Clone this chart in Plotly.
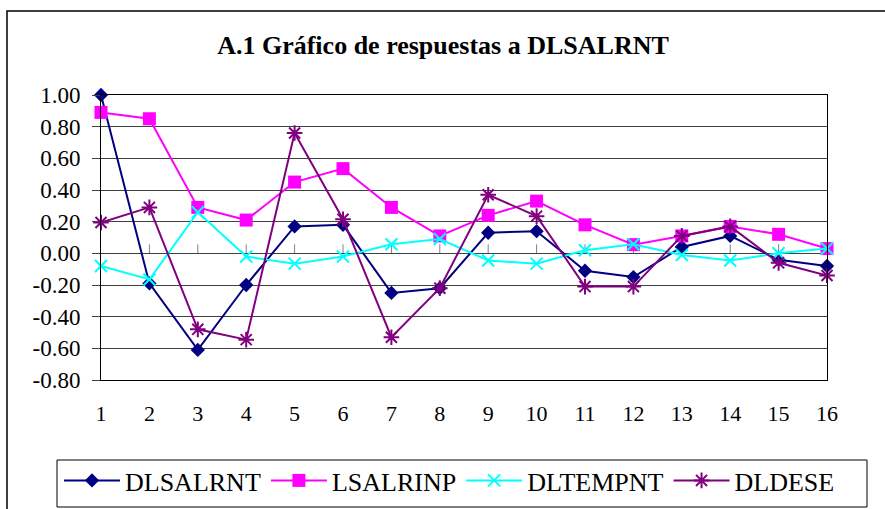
import plotly.graph_objects as go

periods = list(range(1, 17))
tick_labels = [str(p) for p in periods]
y_tick_vals = [-0.8, -0.6, -0.4, -0.2, 0.0, 0.2, 0.4, 0.6, 0.8, 1.0]
y_tick_labels = ["-0.80", "-0.60", "-0.40", "-0.20", "0.00", "0.20", "0.40", "0.60", "0.80", "1.00"]

dlsalrnt = [1.00, -0.19, -0.61, -0.20, 0.17, 0.18, -0.25, -0.22, 0.13, 0.14, -0.11, -0.15, 0.04, 0.11, -0.04, -0.08]
lsalrinp = [0.89, 0.85, 0.29, 0.21, 0.45, 0.535, 0.29, 0.11, 0.24, 0.33, 0.18, 0.055, 0.11, 0.17, 0.12, 0.03]
dltempnt = [-0.08, -0.165, 0.26, -0.02, -0.065, -0.02, 0.057, 0.09, -0.045, -0.065, 0.02, 0.057, -0.01, -0.045, 0.00, 0.03]
dldese = [0.195, 0.29, -0.48, -0.545, 0.76, 0.215, -0.53, -0.22, 0.37, 0.235, -0.21, -0.21, 0.11, 0.17, -0.06, -0.14]

series = [
    ("DLSALRNT", dlsalrnt, "#000080", dict(symbol="diamond", size=11, color="#000080")),
    ("LSALRINP", lsalrinp, "#FF00FF", dict(symbol="square", size=13, color="#FF00FF")),
    ("DLTEMPNT", dltempnt, "#00FFFF", dict(symbol="x-thin-open", size=12, color="#00FFFF", line=dict(color="#00FFFF", width=2))),
    ("DLDESE", dldese, "#800080", dict(symbol="asterisk-open", size=13, color="#800080", line=dict(color="#800080", width=2))),
]

FONT = "Times New Roman, Liberation Serif, serif"

fig = go.Figure()
for name, vals, col, mk in series:
    fig.add_trace(go.Scatter(x=periods, y=vals, name=name, mode="lines+markers",
                             line=dict(color=col, width=2), marker=mk, cliponaxis=False))

# small category ticks on the zero line
shapes = []
for p in periods[1:-1]:
    shapes.append(dict(type="line", xref="x", yref="y", x0=p, x1=p, y0=0, y1=0.057,
                       line=dict(color="#808080", width=1), layer="below"))
# frames (pixel positions converted to paper fractions of the 726x285 plot area)
W, H = 726.0, 285.0
def px(x):
    return (x - 101) / W
def py(y):
    return (380 - y) / H
# outer chart border
shapes.append(dict(type="rect", xref="paper", yref="paper",
                   x0=px(7), x1=px(895), y0=py(520), y1=py(11),
                   line=dict(color="black", width=1.5), fillcolor="rgba(0,0,0,0)"))
# legend frame
shapes.append(dict(type="rect", xref="paper", yref="paper",
                   x0=px(57), x1=px(867), y0=py(507), y1=py(460),
                   line=dict(color="black", width=1), fillcolor="rgba(0,0,0,0)"))

fig.update_layout(
    width=885, height=509,
    margin=dict(l=101, r=58, t=95, b=129, autoexpand=False),
    paper_bgcolor="white", plot_bgcolor="white",
    font=dict(family=FONT, color="black", size=22),
    title=dict(text="<b>A.1 Gráfico de respuestas a DLSALRNT</b>", x=443 / 885, xanchor="center",
               y=1 - 45 / 509, yanchor="middle", yref="container",
               font=dict(family=FONT, size=26, color="black")),
    showlegend=True,
    legend=dict(orientation="h", xref="paper", yref="paper",
                x=px(59), xanchor="left", y=py(457), yanchor="top",
                borderwidth=0, bgcolor="rgba(0,0,0,0)",
                font=dict(family=FONT, size=26, color="black"), itemwidth=56),
    shapes=shapes,
)

fig.update_xaxes(range=[1, 16], tickmode="array", tickvals=periods, ticktext=tick_labels,
                 showgrid=False, zeroline=False, showline=True, linecolor="black", linewidth=1,
                 mirror=True, ticks="", ticklabelstandoff=14, tickfont=dict(family=FONT, size=22),
                 automargin=False)
fig.update_yaxes(range=[-0.8, 1.0], tickmode="array", tickvals=y_tick_vals, ticktext=y_tick_labels,
                 showgrid=True, gridcolor="#404040", gridwidth=1, zeroline=False,
                 showline=True, linecolor="black", linewidth=1, mirror=True,
                 ticks="outside", ticklen=8, tickcolor="#404040", ticklabelstandoff=7,
                 tickfont=dict(family=FONT, size=23), automargin=False)

fig.write_html("out.html", post_script="document.body.style.margin='0px';",
               config={"displayModeBar": False})
